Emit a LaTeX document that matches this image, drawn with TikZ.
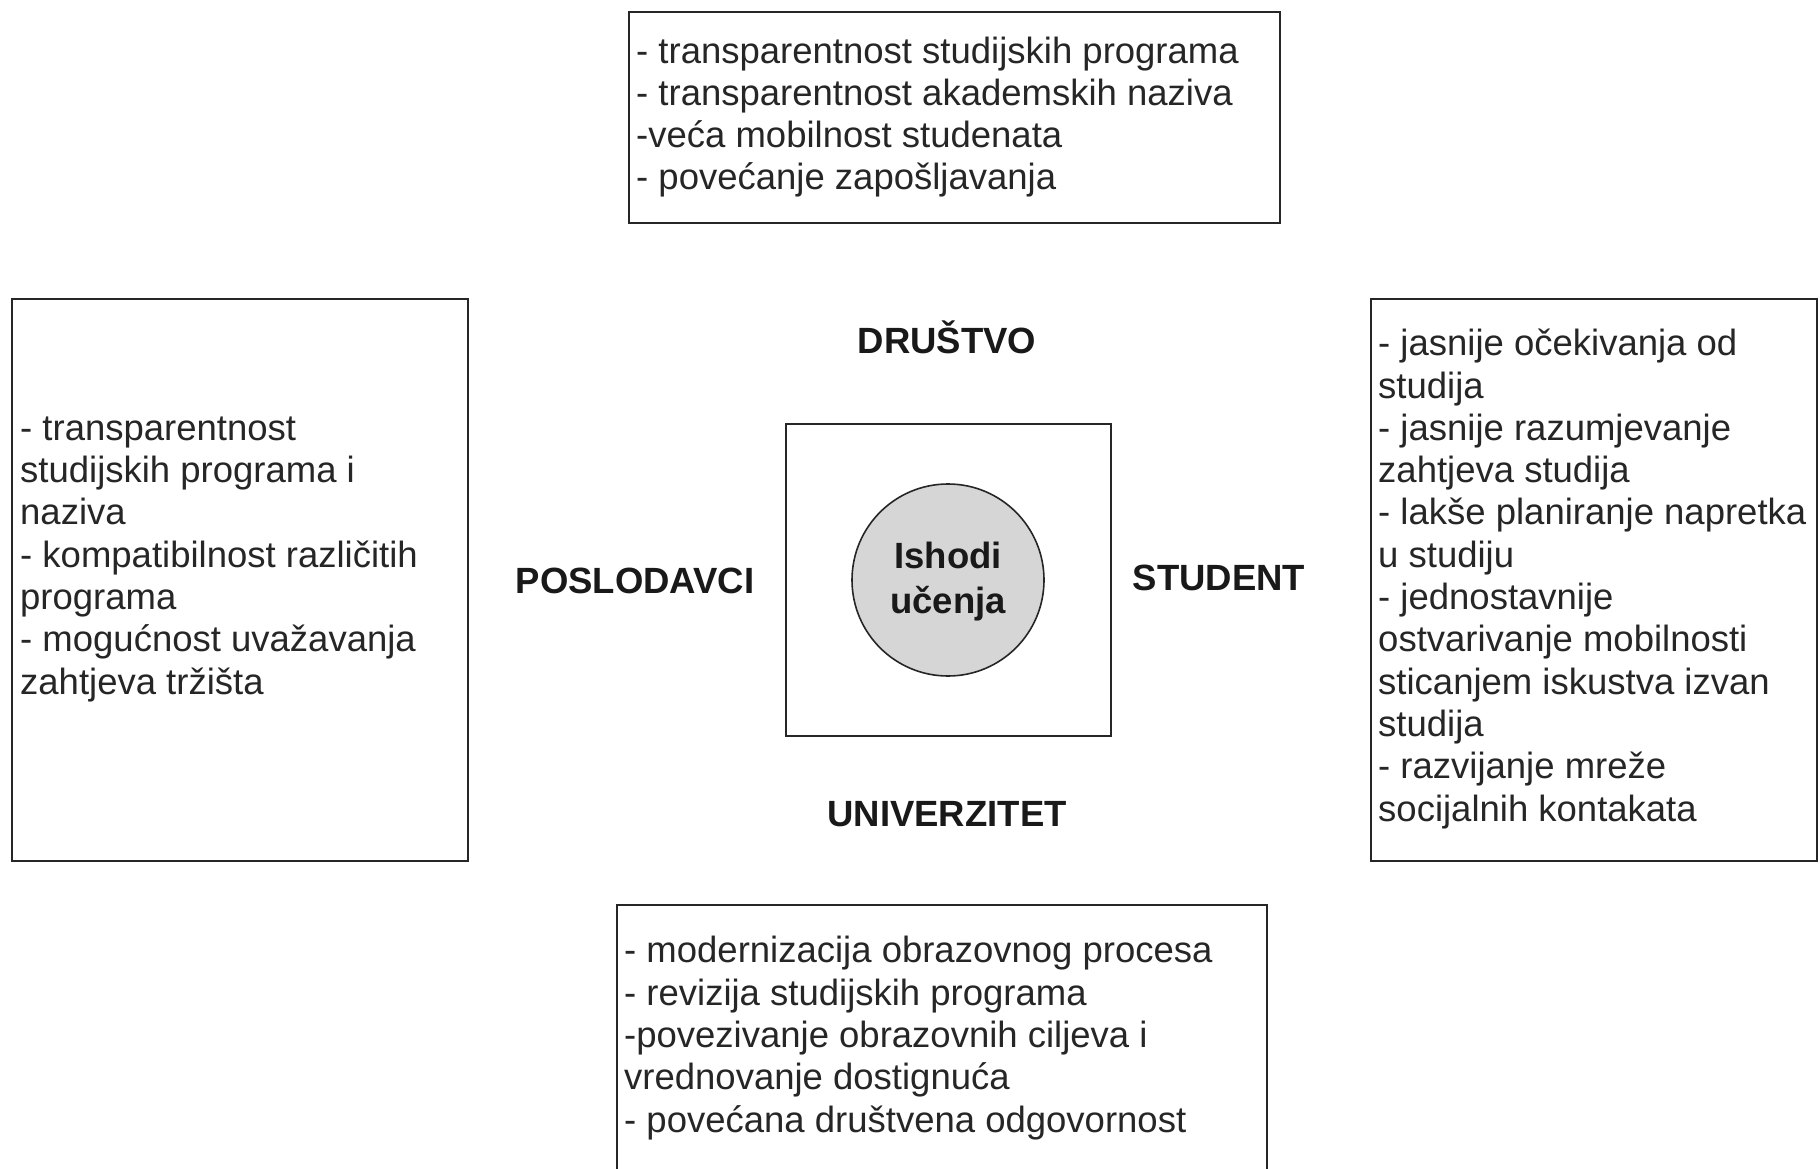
\documentclass[tikz,border=0pt]{standalone}
\usepackage{fontspec}
\setmainfont{Liberation Sans}
\begin{document}
\begin{tikzpicture}[x=1pt,y=-1pt]
\tikzset{
  box/.style={draw=black!85, line width=2.5pt, rectangle, inner sep=0pt, outer sep=0pt, anchor=north west},
  txt/.style={anchor=base west, align=left, inner sep=0pt, text=black!85, font=\fontsize{36.5}{42.3}\selectfont},
  lbl/.style={anchor=base, inner sep=0pt, text=black!90, font=\fontsize{36.5}{42}\selectfont\bfseries},
  core/.style={circle, draw=black!85, line width=1.6pt, fill=black!16, minimum size=192pt, inner sep=0pt}
}
\useasboundingbox (0,0) rectangle (1820,1169);
\fill[white] (0,0) rectangle (1820,1169);

% boxes
\node[box, minimum width=651pt, minimum height=211pt] (topbox) at (629,12) {};
\node[box, minimum width=456pt, minimum height=562pt] (leftbox) at (12,299) {};
\node[box, minimum width=446pt, minimum height=562pt] (rightbox) at (1371,299) {};
\node[box, minimum width=650pt, minimum height=290pt] (bottombox) at (617,905) {};
\node[box, minimum width=325pt, minimum height=312pt] (square) at (786,424) {};
\node[core] (circ) at (948,580) {};

% box texts (anchored at the baseline of the last line)
\node[txt] (toptext) at (636,190) {- transparentnost studijskih programa\\- transparentnost akademskih naziva\\-veća mobilnost studenata\\- povećanje zapošljavanja};
\node[txt] (lefttext) at (20,694) {- transparentnost\\studijskih programa i\\naziva\\- kompatibilnost različitih\\programa\\- mogućnost uvažavanja\\zahtjeva tržišta};
\node[txt] (righttext) at (1378,821) {- jasnije očekivanja od\\studija\\- jasnije razumjevanje\\zahtjeva studija\\- lakše planiranje napretka\\u studiju\\- jednostavnije\\ostvarivanje mobilnosti\\sticanjem iskustva izvan\\studija\\- razvijanje mreže\\socijalnih kontakata};
\node[txt] (bottomtext) at (624,1132) {- modernizacija obrazovnog procesa\\- revizija studijskih programa\\-povezivanje obrazovnih ciljeva i\\vrednovanje dostignuća\\- povećana društvena odgovornost};

% labels
\node[lbl] (drustvo) at (947,353) {DRUŠTVO};
\node[lbl] (poslodavci) at (635,593) {POSLODAVCI};
\node[lbl] (student) at (1219,590) {STUDENT};
\node[lbl] (univerzitet) at (947,826) {UNIVERZITET};
\node[lbl, align=center, font=\fontsize{36.5}{45}\selectfont\bfseries] (ishodi) at (948,613) {Ishodi\\učenja};
\end{tikzpicture}
\end{document}
